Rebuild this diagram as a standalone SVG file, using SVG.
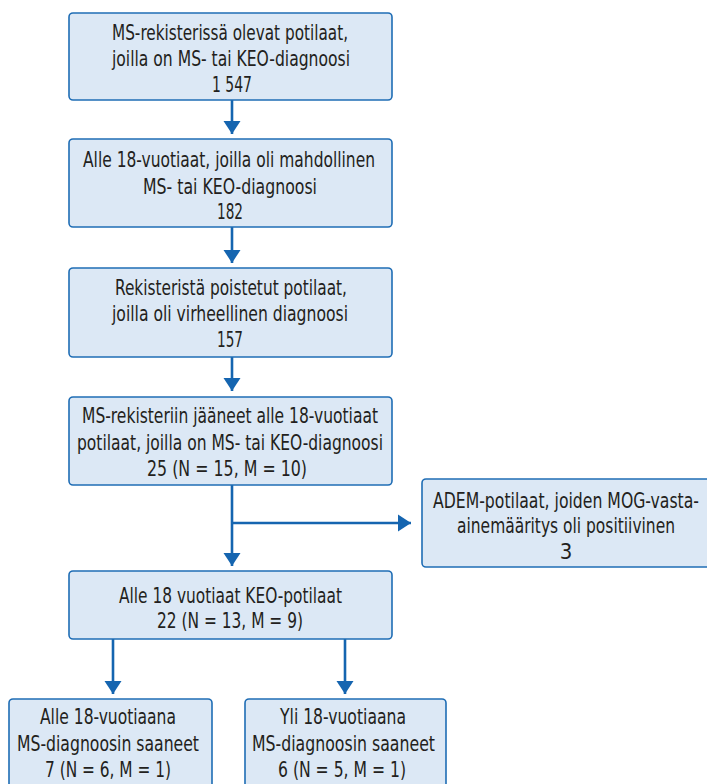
<svg xmlns="http://www.w3.org/2000/svg" width="707" height="784" viewBox="0 0 707 784">
<style>
.box{fill:#dce8f5;stroke:#1f6db5;stroke-width:1.6}
.t{font-family:"DejaVu Sans Condensed","DejaVu Sans","Liberation Sans",sans-serif;font-stretch:condensed;font-size:22px;fill:#231f20;text-anchor:middle}
.c{stroke:#1565b0;stroke-width:2.6;fill:none}
</style>
<defs>
<marker id="ah" markerUnits="userSpaceOnUse" markerWidth="14" markerHeight="18" viewBox="0 0 14 18" refX="13" refY="9" orient="auto">
<polygon points="0,0.5 13,9 0,17.5" fill="#1565b0"/>
</marker>
</defs>
<rect width="707" height="784" fill="#ffffff"/>
<g id="connectors">
<line class="c" x1="232" y1="100" x2="232" y2="134" marker-end="url(#ah)"/>
<line class="c" x1="232" y1="227" x2="232" y2="263" marker-end="url(#ah)"/>
<line class="c" x1="232" y1="357" x2="232" y2="391" marker-end="url(#ah)"/>
<line class="c" x1="232" y1="485" x2="232" y2="566" marker-end="url(#ah)"/>
<line class="c" x1="232" y1="523" x2="411" y2="523" marker-end="url(#ah)"/>
<line class="c" x1="113" y1="639" x2="113" y2="694" marker-end="url(#ah)"/>
<line class="c" x1="345" y1="639" x2="345" y2="694" marker-end="url(#ah)"/>
</g>
<g id="n1">
<rect class="box" x="69" y="13" width="323" height="87" rx="4"/>
<text class="t" x="230" y="40" textLength="236" lengthAdjust="spacingAndGlyphs">MS-rekisterissä olevat potilaat,</text>
<text class="t" x="231" y="66" textLength="238" lengthAdjust="spacingAndGlyphs">joilla on MS- tai KEO-diagnoosi</text>
<text class="t" x="232" y="92" textLength="40" lengthAdjust="spacingAndGlyphs">1 547</text>
</g>
<g id="n2">
<rect class="box" x="69" y="139" width="323" height="88" rx="4"/>
<text class="t" x="229" y="167" textLength="292" lengthAdjust="spacingAndGlyphs">Alle 18-vuotiaat, joilla oli mahdollinen</text>
<text class="t" x="230" y="194" textLength="174" lengthAdjust="spacingAndGlyphs">MS- tai KEO-diagnoosi</text>
<text class="t" x="230" y="219" textLength="26" lengthAdjust="spacingAndGlyphs">182</text>
</g>
<g id="n3">
<rect class="box" x="69" y="268" width="323" height="89" rx="4"/>
<text class="t" x="231" y="295" textLength="232" lengthAdjust="spacingAndGlyphs">Rekisteristä poistetut potilaat,</text>
<text class="t" x="230" y="321" textLength="236" lengthAdjust="spacingAndGlyphs">joilla oli virheellinen diagnoosi</text>
<text class="t" x="230" y="347" textLength="26" lengthAdjust="spacingAndGlyphs">157</text>
</g>
<g id="n4">
<rect class="box" x="69" y="397" width="323" height="88" rx="4"/>
<text class="t" x="230" y="423" textLength="296" lengthAdjust="spacingAndGlyphs">MS-rekisteriin jääneet alle 18-vuotiaat</text>
<text class="t" x="230" y="450" textLength="306" lengthAdjust="spacingAndGlyphs">potilaat, joilla on MS- tai KEO-diagnoosi</text>
<text class="t" x="227" y="476" textLength="160" lengthAdjust="spacingAndGlyphs">25 (N = 15, M = 10)</text>
</g>
<g id="n5">
<rect class="box" x="422" y="479" width="295" height="88" rx="4"/>
<text class="t" x="566" y="508" textLength="266" lengthAdjust="spacingAndGlyphs">ADEM-potilaat, joiden MOG-vasta-</text>
<text class="t" x="566" y="533" textLength="218" lengthAdjust="spacingAndGlyphs">ainemääritys oli positiivinen</text>
<text class="t" x="566" y="559">3</text>
</g>
<g id="n6">
<rect class="box" x="69" y="571" width="323" height="68" rx="4"/>
<text class="t" x="230.5" y="603" textLength="223" lengthAdjust="spacingAndGlyphs">Alle 18 vuotiaat KEO-potilaat</text>
<text class="t" x="230" y="628" textLength="146" lengthAdjust="spacingAndGlyphs">22 (N = 13, M = 9)</text>
</g>
<g id="n7">
<rect class="box" x="9" y="699" width="203" height="95" rx="4"/>
<text class="t" x="108" y="724" textLength="136" lengthAdjust="spacingAndGlyphs">Alle 18-vuotiaana</text>
<text class="t" x="108" y="751" textLength="182" lengthAdjust="spacingAndGlyphs">MS-diagnoosin saaneet</text>
<text class="t" x="108" y="777" textLength="126" lengthAdjust="spacingAndGlyphs">7 (N = 6, M = 1)</text>
</g>
<g id="n8">
<rect class="box" x="245" y="699" width="201" height="95" rx="4"/>
<text class="t" x="343" y="724" textLength="126" lengthAdjust="spacingAndGlyphs">Yli 18-vuotiaana</text>
<text class="t" x="343.5" y="751" textLength="183" lengthAdjust="spacingAndGlyphs">MS-diagnoosin saaneet</text>
<text class="t" x="342" y="777" textLength="128" lengthAdjust="spacingAndGlyphs">6 (N = 5, M = 1)</text>
</g>
</svg>
